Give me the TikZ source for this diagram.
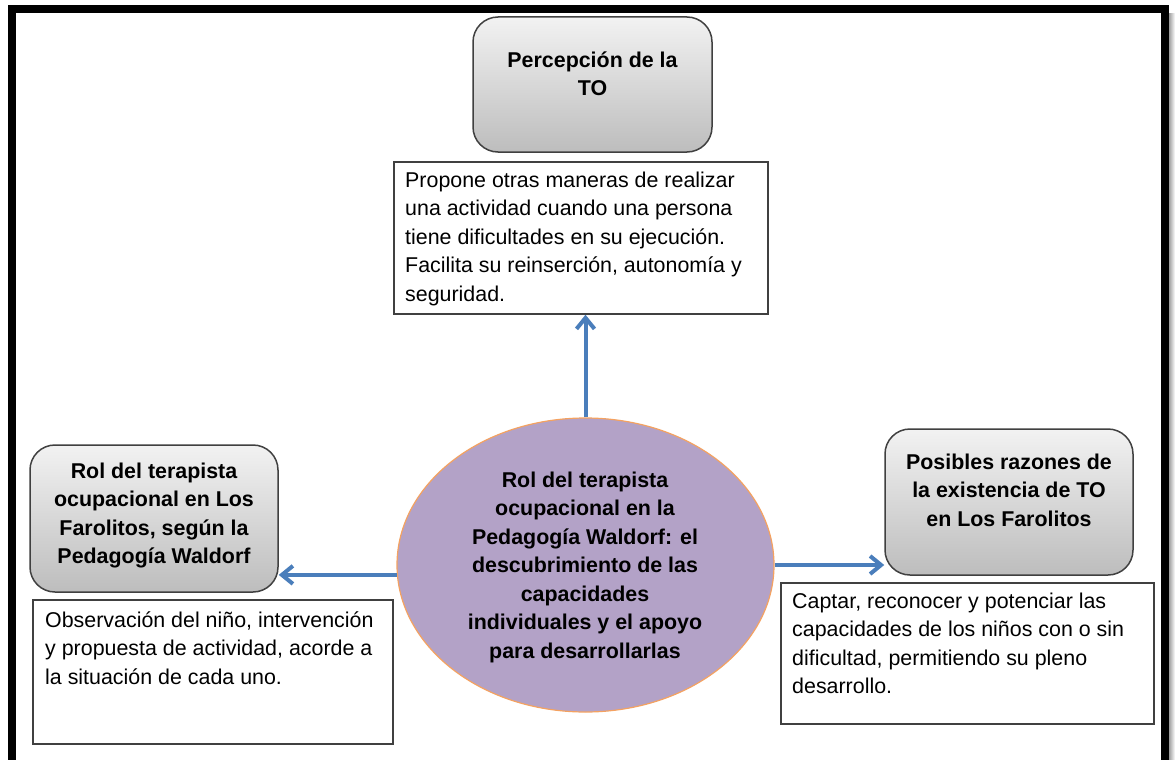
\documentclass[tikz,border=0pt]{standalone}
\usepackage{fontspec}
\setmainfont{Liberation Sans}
\usetikzlibrary{arrows.meta,shapes.geometric}
\definecolor{arrblue}{HTML}{4A7EBB}
\definecolor{ellfill}{HTML}{B3A2C7}
\definecolor{ellline}{HTML}{F4A261}
\definecolor{boxline}{HTML}{404040}
\definecolor{shtop}{HTML}{F2F2F2}
\definecolor{shbot}{HTML}{BDBDBD}
\newcommand{\mystrut}{\rule{0pt}{16pt}}
\begin{document}
\begin{tikzpicture}[x=1pt,y=-1pt,
  txt/.style={font=\fontsize{21.4}{28.5}\selectfont, inner sep=0pt, align=left, anchor=north west},
  ttl/.style={font=\fontsize{21.4}{28.5}\selectfont\bfseries, inner sep=0pt, align=center, anchor=north},
  titlebox/.style={draw=boxline, line width=1.5pt, rounded corners=25pt, top color=shtop, bottom color=shbot, inner sep=0pt},
  textbox/.style={draw=boxline, line width=1.5pt, fill=white, inner sep=0pt},
  arr/.style={draw=arrblue, line width=4pt, -{Straight Barb[length=11pt,width=18pt]}}]
\fill[white] (0,0) rectangle (1175,760);
\useasboundingbox (0,0) rectangle (1175,760);
% outer frame
\draw[line width=8pt] (12,9) rectangle (1165,764);
\shade[left color=gray!75, right color=white] (1169,14) rectangle (1175,764);
% boxes
\node[titlebox, minimum width=239, minimum height=135] (tTitle) at (592.5,84.5) {};
\node[textbox, minimum width=374, minimum height=152] (tBox) at (581,238) {};
\node[titlebox, minimum width=248, minimum height=147] (lTitle) at (154,518.5) {};
\node[textbox, minimum width=360, minimum height=144] (lBox) at (213,672) {};
\node[titlebox, minimum width=248, minimum height=146] (rTitle) at (1009,502) {};
\node[textbox, minimum width=373, minimum height=141] (rBox) at (967.5,653.5) {};
\node[ellipse, draw=ellline, line width=1.2pt, fill=ellfill, minimum width=377, minimum height=294, inner sep=0pt] (ell) at (585.5,565) {};
% texts
\node[ttl] (tTitleTxt) at (592.5,51) {\mystrut Percepción de la\\TO};
\node[ttl] (lTitleTxt) at (154,462) {\mystrut Rol del terapista\\ocupacional en Los\\Farolitos, según la\\Pedagogía Waldorf};
\node[ttl] (rTitleTxt) at (1009,453) {\mystrut Posibles razones de\\la existencia de TO\\en Los Farolitos};
\node[ttl] (ellTxt) at (585,471) {\mystrut Rol del terapista\\ocupacional en la\\Pedagogía Waldorf: el\\descubrimiento de las\\capacidades\\individuales y el apoyo\\para desarrollarlas};
\node[txt] (tBoxTxt) at (405,171) {\mystrut Propone otras maneras de realizar\\una actividad cuando una persona\\tiene dificultades en su ejecución.\\Facilita su reinserción, autonomía y\\seguridad.};
\node[txt] (lBoxTxt) at (45,611) {\mystrut Observación del niño, intervención\\y propuesta de actividad, acorde a\\la situación de cada uno.};
\node[txt] (rBoxTxt) at (792,592) {\mystrut Captar, reconocer y potenciar las\\capacidades de los niños con o sin\\dificultad, permitiendo su pleno\\desarrollo.};
% arrows
\draw[arr] (ell.north) -- (ell.north |- tBox.south);
\draw[arr] (ell.183.6) -- (lTitle.east |- ell.183.6);
\draw[arr] (ell.east) -- (rTitle.west |- ell.east);
\end{tikzpicture}
\end{document}
